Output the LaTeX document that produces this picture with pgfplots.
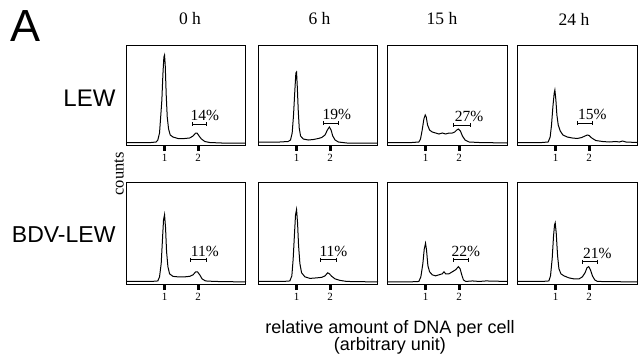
\documentclass[border=0pt]{standalone}
\usepackage{pgfplots}
\pgfplotsset{compat=1.18}
\usepackage{fontspec}
\setmainfont{Liberation Serif}
\newfontfamily\arial{Liberation Sans}
\pgfplotsset{panel/.style={
  scale only axis, width=120pt, height=100pt,
  xmin=-0.15, xmax=3.43, ymin=0, ymax=1,
  ytick=\empty, xtick={1,2}, xticklabels={1,2}, xtick pos=left,
  tick align=outside, major tick length=6pt,
  x tick style={line width=3pt, black},
  axis line style={line width=1pt},
  ticklabel style={font=\fontsize{11}{11}\selectfont},
  /pgf/number format/assume math mode=true,
  clip=false},
  curve/.style={black, line width=1pt, mark=none},
  brk/.style={black, line width=0.9pt, mark=|, mark size=2pt, mark options={line width=0.9pt}}
}
\tikzset{pct/.style={anchor=base, yshift=3.5pt, font=\fontsize{15.5}{15.5}\selectfont}}
\begin{document}
\begin{tikzpicture}[x=1pt,y=1pt]
\useasboundingbox (0,0) rectangle (641,360);
% ---------- row 1 : LEW ----------
\begin{axis}[panel, at={(126pt,315pt)}, anchor=north west]
\addplot[curve] coordinates {(-0.15,0.025)(0.3,0.025)(0.6,0.025)(0.75,0.03)(0.8,0.05)(0.85,0.12)(0.88,0.26)(0.92,0.45)(0.95,0.70)(0.98,0.88)(1.00,0.90)(1.02,0.80)(1.05,0.50)(1.08,0.28)(1.12,0.16)(1.17,0.10)(1.25,0.08)(1.4,0.065)(1.6,0.065)(1.75,0.07)(1.85,0.09)(1.93,0.12)(1.97,0.12)(2.03,0.09)(2.1,0.06)(2.2,0.035)(2.35,0.025)(2.7,0.02)(3.43,0.02)};
\addplot[brk] coordinates {(1.82,0.21)(2.26,0.21)};
\node[pct] at (axis cs:2.2,0.21) {14\%};
\end{axis}
\begin{axis}[panel, at={(258pt,315pt)}, anchor=north west]
\addplot[curve] coordinates {(-0.15,0.03)(0.5,0.03)(0.75,0.035)(0.82,0.05)(0.87,0.12)(0.91,0.3)(0.95,0.55)(0.98,0.72)(1.00,0.73)(1.02,0.6)(1.05,0.35)(1.08,0.17)(1.12,0.09)(1.2,0.06)(1.35,0.05)(1.5,0.055)(1.65,0.065)(1.75,0.075)(1.85,0.10)(1.92,0.15)(1.98,0.18)(2.03,0.15)(2.08,0.09)(2.15,0.05)(2.25,0.03)(2.5,0.02)(3.43,0.02)};
\addplot[brk] coordinates {(1.79,0.22)(2.24,0.22)};
\node[pct] at (axis cs:2.2,0.22) {19\%};
\end{axis}
\begin{axis}[panel, at={(387pt,315pt)}, anchor=north west]
\addplot[curve] coordinates {(-0.15,0.025)(0.6,0.025)(0.8,0.03)(0.85,0.06)(0.9,0.15)(0.95,0.26)(0.99,0.30)(1.02,0.28)(1.06,0.2)(1.12,0.15)(1.2,0.13)(1.3,0.12)(1.4,0.11)(1.5,0.12)(1.6,0.11)(1.7,0.12)(1.8,0.12)(1.87,0.13)(1.93,0.15)(1.98,0.16)(2.04,0.14)(2.1,0.09)(2.18,0.05)(2.3,0.03)(2.6,0.025)(3.43,0.02)};
\addplot[brk] coordinates {(1.82,0.20)(2.33,0.20)};
\node[pct] at (axis cs:2.3,0.20) {27\%};
\end{axis}
\begin{axis}[panel, at={(517pt,315pt)}, anchor=north west]
\addplot[curve] coordinates {(-0.15,0.025)(0.6,0.025)(0.78,0.03)(0.84,0.08)(0.88,0.2)(0.92,0.38)(0.96,0.52)(0.98,0.55)(1.01,0.45)(1.04,0.3)(1.08,0.2)(1.14,0.14)(1.22,0.1)(1.35,0.08)(1.5,0.07)(1.65,0.065)(1.78,0.075)(1.88,0.09)(1.95,0.10)(2.0,0.095)(2.08,0.07)(2.2,0.045)(2.4,0.035)(2.6,0.03)(2.8,0.035)(2.9,0.03)(3.0,0.04)(3.1,0.03)(3.43,0.025)};
\addplot[brk] coordinates {(1.64,0.22)(2.1,0.22)};
\node[pct] at (axis cs:2.1,0.22) {15\%};
\end{axis}
% ---------- row 2 : BDV-LEW ----------
\begin{axis}[panel, height=102pt, at={(126pt,178pt)}, anchor=north west]
\addplot[curve] coordinates {(-0.15,0.025)(0.6,0.025)(0.8,0.03)(0.85,0.07)(0.9,0.2)(0.94,0.45)(0.97,0.63)(1.0,0.68)(1.03,0.55)(1.06,0.32)(1.1,0.17)(1.15,0.1)(1.25,0.075)(1.4,0.07)(1.6,0.07)(1.75,0.075)(1.85,0.09)(1.93,0.12)(1.98,0.12)(2.05,0.09)(2.12,0.05)(2.22,0.03)(2.5,0.025)(3.43,0.02)};
\addplot[brk] coordinates {(1.78,0.24)(2.24,0.24)};
\node[pct] at (axis cs:2.2,0.24) {11\%};
\end{axis}
\begin{axis}[panel, height=102pt, at={(258pt,178pt)}, anchor=north west]
\addplot[curve] coordinates {(-0.15,0.025)(0.6,0.025)(0.8,0.03)(0.86,0.08)(0.9,0.25)(0.94,0.5)(0.97,0.68)(1.0,0.73)(1.03,0.6)(1.06,0.38)(1.1,0.2)(1.15,0.11)(1.25,0.07)(1.4,0.055)(1.6,0.06)(1.75,0.065)(1.85,0.08)(1.93,0.11)(1.98,0.10)(2.05,0.075)(2.15,0.05)(2.3,0.035)(2.5,0.025)(3.43,0.02)};
\addplot[brk] coordinates {(1.7,0.24)(2.2,0.24)};
\node[pct] at (axis cs:2.1,0.24) {11\%};
\end{axis}
\begin{axis}[panel, height=102pt, at={(387pt,178pt)}, anchor=north west]
\addplot[curve] coordinates {(-0.15,0.02)(0.5,0.02)(0.8,0.025)(0.86,0.07)(0.92,0.2)(0.96,0.34)(1.0,0.40)(1.03,0.33)(1.07,0.18)(1.12,0.12)(1.2,0.09)(1.3,0.08)(1.4,0.09)(1.5,0.10)(1.55,0.12)(1.6,0.10)(1.7,0.10)(1.8,0.12)(1.9,0.14)(1.98,0.17)(2.03,0.15)(2.08,0.09)(2.13,0.04)(2.2,0.025)(2.4,0.03)(2.6,0.025)(2.8,0.03)(3.43,0.025)};
\addplot[brk] coordinates {(1.83,0.24)(2.28,0.24)};
\node[pct] at (axis cs:2.2,0.24) {22\%};
\end{axis}
\begin{axis}[panel, height=102pt, at={(517pt,178pt)}, anchor=north west]
\addplot[curve] coordinates {(-0.15,0.025)(0.6,0.025)(0.8,0.03)(0.85,0.08)(0.9,0.25)(0.94,0.47)(0.97,0.58)(0.99,0.60)(1.02,0.5)(1.06,0.28)(1.1,0.15)(1.16,0.1)(1.25,0.08)(1.4,0.06)(1.55,0.05)(1.7,0.05)(1.8,0.07)(1.88,0.11)(1.94,0.16)(1.99,0.17)(2.04,0.14)(2.1,0.08)(2.17,0.04)(2.25,0.025)(3.43,0.02)};
\addplot[brk] coordinates {(1.8,0.22)(2.25,0.22)};
\node[pct] at (axis cs:2.25,0.22) {21\%};
\end{axis}
% ---------- labels ----------
\node[font=\arial\fontsize{45}{45}\selectfont] at (26,334) {A};
\foreach \xx/\tt in {190/0 h, 319.5/6 h, 442/15 h, 574/24 h}
  \node[font=\fontsize{17.5}{17.5}\selectfont] at (\xx,341) {\tt};
\node[anchor=east, font=\arial\fontsize{24}{24}\selectfont] at (119,262) {LEW};
\node[anchor=east, font=\arial\fontsize{23}{23}\selectfont] at (119,125) {BDV-LEW};
\node[rotate=90, font=\fontsize{16.5}{16.5}\selectfont] at (119,186) {counts};
\node[align=center, font=\arial\fontsize{18}{17}\selectfont] at (390,23) {relative amount of DNA per cell\\(arbitrary unit)};
\end{tikzpicture}
\end{document}
